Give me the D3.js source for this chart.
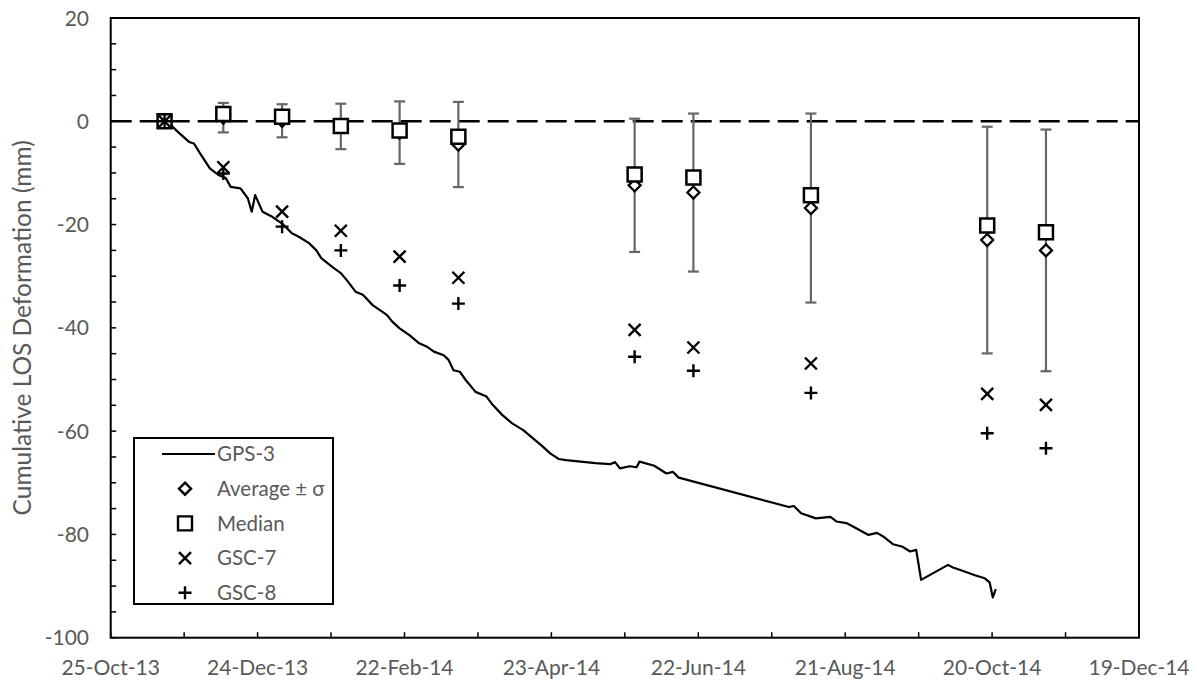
<!DOCTYPE html>
<html>
<head>
<meta charset="utf-8">
<script src="https://cdn.jsdelivr.net/npm/d3@7"></script>
<style>
  html, body { margin: 0; padding: 0; background: #fff; }
  svg { display: block; }
  text { font-family: Lato, "Open Sans", sans-serif; fill: #595959; }
</style>
</head>
<body>
<svg id="chart" width="1197" height="682"></svg>
<script>
// Scene acquisition dates and per-scene statistics (mm)
const sceneDates = ["2013-11-16","2013-12-10","2014-01-03","2014-01-27","2014-02-20","2014-03-16",
                    "2014-05-27","2014-06-20","2014-08-07","2014-10-18","2014-11-11"];
const averageMm = [0, 0.7, 0.1, -1.0, -2.2, -4.5, -12.4, -13.8, -16.8, -23.0, -25.0];
const sigmaMm   = [0, 2.85, 3.2, 4.4, 6.05, 8.25, 12.9, 15.3, 18.3, 21.95, 23.4];
const medianMm  = [0, 1.4, 0.9, -0.9, -1.8, -3.0, -10.3, -10.9, -14.3, -20.2, -21.5];
const gsc7Mm    = [0, -8.9, -17.5, -21.2, -26.2, -30.3, -40.4, -43.8, -46.9, -52.8, -54.9];
const gsc8Mm    = [0, -10.1, -20.4, -25.0, -31.8, -35.3, -45.6, -48.3, -52.6, -60.4, -63.3];

// GPS-3 record: days after 25-Oct-2013 and cumulative LOS displacement (mm)
const gpsDays = [22, 24, 28, 32, 34, 36.5, 40.5, 44, 47, 49, 53, 56, 57.6, 59, 62, 66, 70, 74, 77, 81,
                 84, 86, 91, 94, 96.5, 100, 103, 107, 111, 113, 115, 118, 122, 126, 129, 132, 136, 138, 140, 142.6,
                 145, 149, 153.5, 156, 160, 164, 168.5, 172.5, 176.5, 179.5, 183, 186, 192, 198, 204, 206, 208, 212, 214.8, 216,
                 222, 227, 229.7, 232, 277, 279, 282, 288, 294, 296.5, 300.5, 304.5, 309.5, 313, 315.5, 319.5, 323.5, 326.5, 329, 331,
                 342, 344, 347, 353, 357, 359, 360.3, 361.5];
const gpsMm   = [0, -0.5, -2.3, -4.0, -4.3, -6.2, -9.1, -10.4, -11.0, -12.7, -13.0, -14.9, -17.5, -14.3, -17.5, -18.5, -19.8, -21.7, -22.4, -23.6,
                 -25.0, -26.5, -28.4, -29.4, -30.8, -33.0, -33.6, -35.6, -36.9, -37.6, -38.8, -40.1, -41.4, -43.0, -43.6, -44.6, -45.3, -46.2, -48.2, -48.5,
                 -50.1, -52.4, -53.3, -54.9, -56.9, -58.5, -59.8, -61.4, -63.0, -64.3, -65.4, -65.6, -65.9, -66.2, -66.4, -66.0, -67.2, -66.8, -67.0, -65.9,
                 -66.7, -68.2, -67.9, -69.0, -74.7, -74.5, -75.9, -76.9, -76.6, -77.5, -77.8, -78.8, -80.1, -79.7, -80.4, -81.9, -82.4, -83.3, -83.0, -88.8,
                 -85.9, -86.4, -86.9, -87.9, -88.5, -89.3, -92.2, -90.6];

// Axis settings
const xStart = "2013-10-25", xEnd = "2014-12-19";
const xMinorDays = 30, xMajorDays = 60;
const yMin = -100, yMax = 20, yMinorStep = 5, yMajorStep = 20;
const yTitle = "Cumulative LOS Deformation (mm)";
const legendLabels = ["GPS-3", "Average ± σ", "Median", "GSC-7", "GSC-8"];

const parse = d3.utcParse("%Y-%m-%d");
const fmt = d3.utcFormat("%d-%b-%y");
const t0 = parse(xStart), t1 = parse(xEnd);

const svg = d3.select("#chart");
const plot = { left: 110.7, right: 1139, top: 18, bottom: 637.7 };

const x = d3.scaleUtc().domain([t0, t1]).range([plot.left, plot.right]);
const y = d3.scaleLinear().domain([yMin, yMax]).range([plot.bottom, plot.top]);

// Tick positions
const xMinor = [];
for (let d = 0; d3.utcDay.offset(t0, d) <= t1; d += xMinorDays) xMinor.push(d3.utcDay.offset(t0, d));
const xMajor = xMinor.filter((_, i) => i % (xMajorDays / xMinorDays) === 0);
const yMinor = d3.range(yMin, yMax + 0.001, yMinorStep);
const yMajor = d3.range(yMin, yMax + 0.001, yMajorStep);

// Inward tick marks
const gTicks = svg.append("g").attr("stroke", "#000").attr("stroke-width", 1.5);
gTicks.selectAll("line.xt").data(xMinor).join("line")
  .attr("x1", d => x(d)).attr("x2", d => x(d))
  .attr("y1", plot.bottom).attr("y2", plot.bottom - 5.5);
gTicks.selectAll("line.yt").data(yMinor).join("line")
  .attr("x1", plot.left).attr("x2", plot.left + 5.5)
  .attr("y1", d => y(d)).attr("y2", d => y(d));

// Tick labels
svg.append("g").selectAll("text").data(xMajor).join("text")
  .attr("x", d => x(d)).attr("y", 675)
  .attr("text-anchor", "middle").attr("font-size", 21)
  .text(d => fmt(d));
svg.append("g").selectAll("text").data(yMajor).join("text")
  .attr("x", 89).attr("y", d => y(d)).attr("dy", "0.36em")
  .attr("text-anchor", "end").attr("font-size", 21)
  .text(d => d);

// Axis title
svg.append("text")
  .attr("transform", `translate(31,${(plot.top + plot.bottom) / 2}) rotate(-90)`)
  .attr("text-anchor", "middle").attr("font-size", 24.5)
  .text(yTitle);

// Zero reference line
svg.append("line")
  .attr("x1", plot.left).attr("x2", plot.right)
  .attr("y1", y(0)).attr("y2", y(0))
  .attr("stroke", "#000").attr("stroke-width", 2.5)
  .attr("stroke-dasharray", "21 8");

// GPS-3 time series
const gpsData = gpsDays.map((d, i) => ({ t: d3.utcDay.offset(t0, Math.floor(d)), frac: d % 1, v: gpsMm[i] }));
const gpsLine = d3.line()
  .x(d => x(new Date(d.t.getTime() + d.frac * 864e5)))
  .y(d => y(d.v));
svg.append("path").datum(gpsData)
  .attr("d", gpsLine)
  .attr("fill", "none").attr("stroke", "#000").attr("stroke-width", 2.2)
  .attr("stroke-linejoin", "round");

// Scene points
const scenes = sceneDates.map((s, i) => ({
  t: parse(s), avg: averageMm[i], sd: sigmaMm[i], med: medianMm[i], g7: gsc7Mm[i], g8: gsc8Mm[i]
}));

// Error bars (average ± σ)
const eb = svg.append("g").attr("stroke", "#666").attr("stroke-width", 2.2);
const ebData = scenes.filter(d => d.sd > 0);
eb.selectAll("line.v").data(ebData).join("line")
  .attr("x1", d => x(d.t)).attr("x2", d => x(d.t))
  .attr("y1", d => y(d.avg + d.sd)).attr("y2", d => y(d.avg - d.sd));
eb.selectAll("line.top").data(ebData).join("line")
  .attr("x1", d => x(d.t) - 5.5).attr("x2", d => x(d.t) + 5.5)
  .attr("y1", d => y(d.avg + d.sd)).attr("y2", d => y(d.avg + d.sd));
eb.selectAll("line.bot").data(ebData).join("line")
  .attr("x1", d => x(d.t) - 5.5).attr("x2", d => x(d.t) + 5.5)
  .attr("y1", d => y(d.avg - d.sd)).attr("y2", d => y(d.avg - d.sd));

// Marker shapes
const diamondPath = "M0,-6L6,0L0,6L-6,0Z";
const squarePath = "M-7,-7H7V7H-7Z";
const crossPath = "M-6,-6L6,6M-6,6L6,-6";
const plusPath = "M-6.5,0H6.5M0,-6.5V6.5";

function markers(field, path, fill, width) {
  svg.append("g").selectAll("path").data(scenes).join("path")
    .attr("transform", d => `translate(${x(d.t)},${y(d[field])})`)
    .attr("d", path).attr("fill", fill)
    .attr("stroke", "#000").attr("stroke-width", width);
}
markers("avg", diamondPath, "#fff", 2.3);
markers("med", squarePath, "#fff", 2.5);
markers("g7", crossPath, "none", 2.4);
markers("g8", plusPath, "none", 2.4);

// Plot frame
svg.append("rect")
  .attr("x", plot.left).attr("y", plot.top)
  .attr("width", plot.right - plot.left).attr("height", plot.bottom - plot.top)
  .attr("fill", "none").attr("stroke", "#000").attr("stroke-width", 2);

// Legend
const lg = svg.append("g");
lg.append("rect").attr("x", 134).attr("y", 438).attr("width", 199).attr("height", 166)
  .attr("fill", "#fff").attr("stroke", "#000").attr("stroke-width", 2);
const rowY = i => 454 + i * 34.7;
lg.append("line").attr("x1", 162).attr("x2", 215).attr("y1", rowY(0)).attr("y2", rowY(0))
  .attr("stroke", "#000").attr("stroke-width", 2.2);
const legendShapes = [null, [diamondPath, "#fff"], [squarePath, "#fff"], [crossPath, "none"], [plusPath, "none"]];
legendShapes.forEach((s, i) => {
  if (!s) return;
  lg.append("path").attr("transform", `translate(185,${rowY(i)})`)
    .attr("d", s[0]).attr("fill", s[1]).attr("stroke", "#000").attr("stroke-width", 2.4);
});
lg.selectAll("text").data(legendLabels).join("text")
  .attr("x", 217).attr("y", (d, i) => rowY(i)).attr("dy", "0.36em")
  .attr("font-size", 20.5)
  .text(d => d);
</script>
</body>
</html>
